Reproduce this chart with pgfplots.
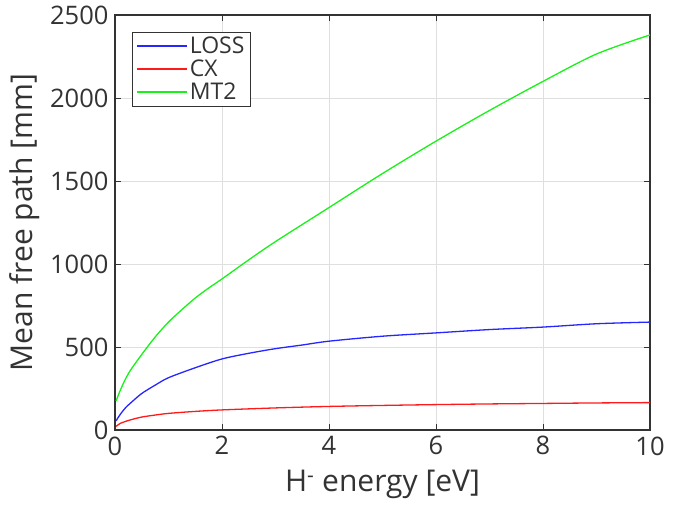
\documentclass[border=0pt]{standalone}
\usepackage{pgfplots}
\pgfplotsset{compat=1.18}
\usepackage{fontspec}
\setmainfont{Open Sans}
\definecolor{txt}{gray}{0.2}
\definecolor{mgreen}{rgb}{0.1,0.95,0.1}
\definecolor{mred}{rgb}{1,0.1,0.1}
\definecolor{mblue}{rgb}{0.15,0.15,1}
\begin{document}
\begin{tikzpicture}[x=1pt,y=1pt]
\begin{axis}[
  scale only axis, width=535pt, height=415pt,
  xmin=0, xmax=10, ymin=0, ymax=2500,
  xtick={0,2,...,10}, ytick={0,500,...,2500},
  tick align=inside, major tick length=6pt,
  grid=major, major grid style={gray!25, line width=0.6pt},
  axis line style={txt, line width=1.3pt},
  tick style={txt, line width=0.8pt},
  every tick label/.append style={font=\fontsize{25.5}{28}\selectfont, text=txt},
  xticklabel style={yshift=-3pt},
  yticklabel style={xshift=-3pt},
  /pgf/number format/assume math mode=true,
  scaled y ticks=false,
  yticklabel style={/pgf/number format/1000 sep={}},
  xlabel={H\textsuperscript{-} energy [eV]},
  ylabel={Mean free path [mm]},
  label style={font=\fontsize{30}{36}\selectfont, text=txt},
  xlabel style={yshift=-8pt},
  ylabel style={yshift=4pt},
  legend style={at={(0.032,0.96)}, anchor=north west, draw=txt, font=\fontsize{23}{26}\selectfont, text=txt, row sep=1pt, inner xsep=4pt, inner ysep=3pt},
  legend cell align=left,
  legend image code/.code={\draw[#1, line width=1.5pt] (0pt,0pt) -- (50pt,0pt);},
]
\addplot[mblue, line width=1.3pt, forget plot, smooth] coordinates {
(0.02,55) (0.1,95) (0.2,135) (0.3,165) (0.5,220) (0.75,270) (1,315) (1.5,375) (2,428) (2.5,462) (3,490) (3.5,512) (4,535) (5,565) (6,585) (7,605) (8,620) (9,640) (10,650)};
\addplot[mred, line width=1.3pt, forget plot, smooth] coordinates {
(0.02,22) (0.1,40) (0.2,52) (0.3,62) (0.5,78) (0.75,90) (1,100) (1.5,112) (2,121) (3,133) (4,142) (5,148) (6,153) (7,157) (8,160) (9,163) (10,165)};
\addplot[mgreen, line width=1.3pt, forget plot, smooth] coordinates {
(0.02,175) (0.1,240) (0.2,310) (0.3,365) (0.5,455) (0.75,560) (1,650) (1.25,725) (1.5,795) (1.75,855) (2,910) (2.5,1025) (3,1135) (4,1340) (5,1545) (6,1740) (7,1925) (8,2100) (9,2265) (10,2380)};
\addlegendimage{draw=mblue}
\addlegendentry{LOSS}
\addlegendimage{draw=mred}
\addlegendentry{CX}
\addlegendimage{draw=mgreen}
\addlegendentry{MT2}
\end{axis}
\path (current axis.south west) ++(-115pt,-80pt) rectangle ([shift={(34pt,15pt)}]current axis.north east);
\end{tikzpicture}
\end{document}
